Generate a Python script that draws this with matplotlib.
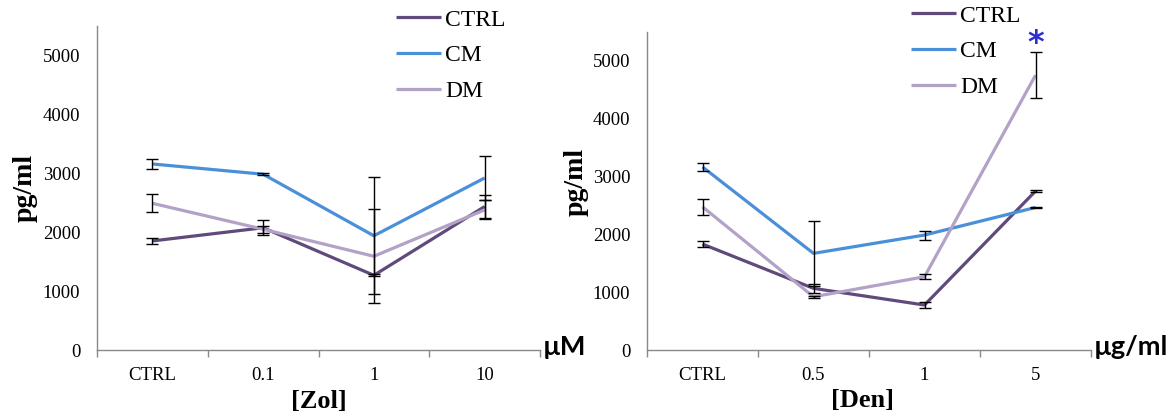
import numpy as np
import matplotlib
matplotlib.use('Agg')
import matplotlib.pyplot as plt


series = ['CTRL', 'CM', 'DM']
colors = ['#604A7B', '#4A90D9', '#B3A2C7']

zol_labels = ['CTRL', '0.1', '1', '10']
zol_ctrl = [1851, 2075, 1268, 2435]
zol_ctrl_err = [45, 130, 20, 200]
zol_cm = [3158, 2984, 1939, 2920]
zol_cm_err = [80, 20, 993, 375]
zol_dm = [2490, 2050, 1591, 2378]
zol_dm_err = [150, 60, 798, 160]

den_labels = ['CTRL', '0.5', '1', '5']
den_ctrl = [1832, 1066, 778, 2748]
den_ctrl_err = [50, 75, 57, 20]
den_cm = [3166, 1671, 1988, 2465]
den_cm_err = [65, 559, 78, 15]
den_dm = [2476, 921, 1267, 4752]
den_dm_err = [138, 20, 45, 397]


def draw_panel(ax, labels, values, errors, xlabel, unit, ylab_x, ylab_y, xlab_x):
    x = np.arange(len(labels))
    lines = []
    for name, col, v, e in zip(series, colors, values, errors):
        ln, = ax.plot(x, v, color=col, lw=2.3, label=name, zorder=2,
                      solid_capstyle='butt')
        lines.append(ln)
        ax.errorbar(x, v, yerr=e, fmt='none', ecolor='black', elinewidth=1,
                    capsize=4, capthick=1, zorder=3)

    ax.set_xlim(-0.5, len(labels) - 0.5)
    ax.set_ylim(0, 5500)
    ax.set_yticks(range(0, 5001, 1000))
    ax.tick_params(axis='y', length=0, pad=12, labelsize=13.5)
    # excel style: tick marks between categories, labels at centres
    ax.set_xticks(np.arange(-0.5, len(labels), 1.0))
    ax.set_xticklabels([])
    ax.tick_params(axis='x', which='major', length=5, width=1, color='#898989')
    ax.set_xticks(x, minor=True)
    ax.set_xticklabels(labels, minor=True)
    ax.tick_params(axis='x', which='minor', length=0, pad=12, labelsize=13.5)

    for s in ['top', 'right']:
        ax.spines[s].set_visible(False)
    for s in ['left', 'bottom']:
        ax.spines[s].set_color('#898989')
        ax.spines[s].set_linewidth(1)

    ax.set_ylabel('pg/ml', fontsize=20, fontweight='bold')
    ax.yaxis.set_label_coords(ylab_x, ylab_y)
    ax.set_xlabel(xlabel, fontsize=19, fontweight='bold')
    ax.xaxis.set_label_coords(xlab_x, -0.123)
    ax.text(1.006, 0.01, unit, transform=ax.transAxes, fontsize=19.5,
            fontweight='bold', family=['Lato', 'DejaVu Sans'],
            ha='left', va='center')
    return lines


plt.rcParams['font.family'] = ['Liberation Serif', 'DejaVu Serif']

fig = plt.figure(figsize=(11.73, 4.19), dpi=100)
ax1 = fig.add_axes([97 / 1173, 69 / 419, 443 / 1173, 324 / 419])
ax2 = fig.add_axes([647 / 1173, 69 / 419, 444 / 1173, 318 / 419])

l1 = draw_panel(ax1, zol_labels, [zol_ctrl, zol_cm, zol_dm],
                [zol_ctrl_err, zol_cm_err, zol_dm_err],
                '[Zol]', 'µM', -0.135, 0.5, 0.5)
l2 = draw_panel(ax2, den_labels, [den_ctrl, den_cm, den_dm],
                [den_ctrl_err, den_cm_err, den_dm_err],
                '[Den]', 'µg/ml', -0.132, 0.53, 0.486)

leg_kw = dict(frameon=False, fontsize=17, handlelength=1.9, handletextpad=0.18,
              labelspacing=0.6, borderpad=0, borderaxespad=0, loc='upper left')
fig.legend(handles=l1, bbox_to_anchor=(396 / 1173, 1 - 9 / 419), **leg_kw)
fig.legend(handles=l2, bbox_to_anchor=(911 / 1173, 1 - 5 / 419), **leg_kw)

# significance mark above DM at the highest dose
ax2.text(3, den_dm[3] + den_dm_err[3] + 160, '*', color='#2E2ECC',
         fontsize=23, fontweight='bold', family='DejaVu Sans',
         ha='center', va='center')

fig.savefig('out.png', dpi=100)
